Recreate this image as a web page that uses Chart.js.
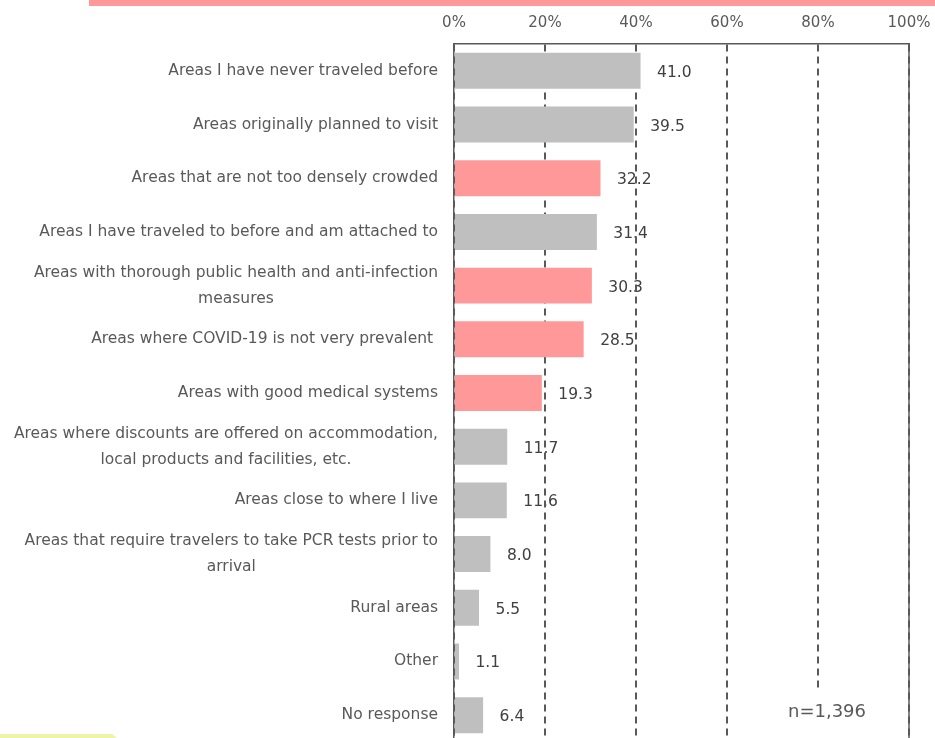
<!DOCTYPE html>
<html>
<head>
<meta charset="utf-8">
<script src="https://cdn.jsdelivr.net/npm/chart.js@4"></script>
<style>
  body { margin: 0; overflow: hidden; background: #fff; }
  #wrap { position: relative; width: 935px; height: 742px; }
  #topband { position: absolute; left: 89px; top: 0; width: 846px; height: 6px; background: #ff9999; }
  #footband { position: absolute; left: 0; top: 734px; width: 122px; height: 8px; background: #eef4a6;
    clip-path: polygon(0 0, 92% 0, 100% 100%, 0 100%); }
</style>
</head>
<body>
<div id="wrap">
  <canvas id="chart"></canvas>
  <div id="topband"></div>
  <div id="footband"></div>
</div>
<script>
'use strict'

const categories = [
    'Areas I have never traveled before',
    'Areas originally planned to visit',
    'Areas that are not too densely crowded',
    'Areas I have traveled to before and am attached to',
    ['Areas with thorough public health and anti-infection', 'measures'],
    'Areas where COVID-19 is not very prevalent ',
    'Areas with good medical systems',
    ['Areas where discounts are offered on accommodation,', 'local products and facilities, etc.'],
    'Areas close to where I live',
    ['Areas that require travelers to take PCR tests prior to', 'arrival'],
    'Rural areas',
    'Other',
    'No response'
];
const values = [41.0, 39.5, 32.2, 31.4, 30.3, 28.5, 19.3, 11.7, 11.6, 8.0, 5.5, 1.1, 6.4];
const highlighted = [false, false, true, false, true, true, true, false, false, false, false, false, false];
const tickValues = [0, 20, 40, 60, 80, 100];
const sampleNote = 'n=1,396';

const gray = '#bfbfbf';
const pink = '#ff9999';
const lineGray = '#595959';
const fontFamily = '"DejaVu Sans", Verdana, sans-serif';

// labels drawn before the grid so the dashed lines run over them, like the original
const labelPlugin = {
    id: 'labelPlugin',
    beforeDraw(chart) {
        const ctx = chart.ctx;
        const yScale = chart.scales.y;
        const left = chart.chartArea.left;
        ctx.save();
        ctx.fillStyle = '#fff';
        ctx.fillRect(0, 0, chart.width, chart.height);

        ctx.font = '15.5px ' + fontFamily;
        ctx.fillStyle = lineGray;
        ctx.textAlign = 'center';
        ctx.textBaseline = 'middle';
        categories.forEach((lab, i) => {
            const lines = Array.isArray(lab) ? lab : [lab];
            const w = Math.max(...lines.map(l => ctx.measureText(l).width));
            const cx = left - 16 - w / 2;
            const cy = yScale.getPixelForValue(i);
            lines.forEach((l, j) => {
                ctx.fillText(l, cx, cy + (j - (lines.length - 1) / 2) * 26);
            });
        });

        ctx.fillStyle = '#404040';
        ctx.textAlign = 'left';
        const meta = chart.getDatasetMeta(0);
        meta.data.forEach((bar, i) => {
            ctx.fillText(values[i].toFixed(1), bar.x + 16.5, bar.y + 2);
        });
        ctx.restore();
    },
    afterDraw(chart) {
        const ctx = chart.ctx;
        const area = chart.chartArea;
        ctx.save();
        // solid right frame
        ctx.strokeStyle = lineGray;
        ctx.lineWidth = 1.5;
        ctx.beginPath();
        ctx.moveTo(area.right, area.top);
        ctx.lineTo(area.right, area.bottom);
        ctx.stroke();

        // sample size note on a white patch
        const x80 = chart.scales.x.getPixelForValue(80);
        ctx.fillStyle = '#fff';
        ctx.fillRect(x80 - 34, 690, 86, 52);
        ctx.font = '18px ' + fontFamily;
        ctx.fillStyle = lineGray;
        ctx.textAlign = 'center';
        ctx.textBaseline = 'middle';
        ctx.fillText(sampleNote, x80 + 9, 712);
        ctx.restore();
    }
};

let canvasElem = document.getElementById('chart');

let chartObj = {
    type: 'bar',
    data: {
        labels: categories,
        datasets: [{
            data: values,
            backgroundColor: highlighted.map(h => h ? pink : gray),
            borderWidth: 0,
            barPercentage: 0.67,
            categoryPercentage: 1
        }]
    },
    options: {
        indexAxis: 'y',
        responsive: true,
        maintainAspectRatio: false,
        animation: false,
        layout: { padding: { left: 0, right: 26, top: 0, bottom: 0 } },
        scales: {
            x: {
                position: 'top',
                min: 0,
                max: 100,
                afterFit(scale) {
                    scale.height = 44;
                    scale.paddingRight = 0;
                    scale.paddingLeft = 0;
                },
                afterBuildTicks(scale) { scale.ticks = tickValues.map(v => ({ value: v })); },
                ticks: {
                    color: lineGray,
                    padding: 12,
                    font: { family: fontFamily, size: 15 },
                    callback: v => v + '%'
                },
                grid: {
                    color: lineGray,
                    lineWidth: 2,
                    drawTicks: false
                },
                border: {
                    display: true,
                    color: lineGray,
                    width: 1.5,
                    dash: [7, 5]
                }
            },
            y: {
                afterFit(scale) { scale.width = 454; },
                ticks: { display: false },
                grid: { display: false, drawTicks: false },
                border: { display: true, color: lineGray, width: 1.5 }
            }
        },
        plugins: {
            legend: { display: false },
            tooltip: { enabled: false }
        }
    },
    plugins: [labelPlugin]
};

new Chart(canvasElem, chartObj);
</script>
</body>
</html>
